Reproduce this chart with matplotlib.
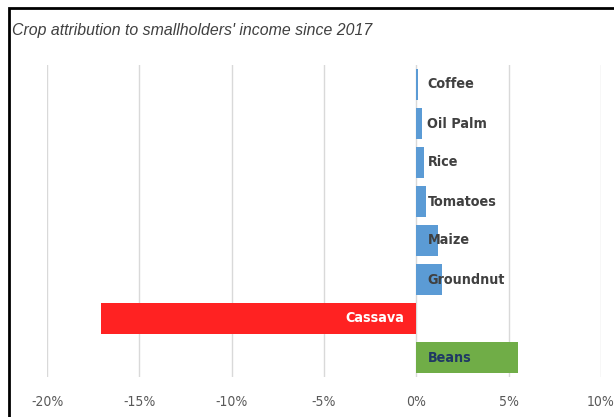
import matplotlib.pyplot as plt
from matplotlib.patches import Rectangle

crops = ['Coffee', 'Oil Palm', 'Rice', 'Tomatoes', 'Maize', 'Groundnut', 'Cassava', 'Beans']
change = [0.1, 0.33, 0.4, 0.55, 1.2, 1.4, -17.1, 5.5]
bar_colors = ['#5B9BD5'] * 6 + ['#FF2222', '#70AD47']
label_colors = ['#404040'] * 6 + ['white', '#1F3864']
tick_vals = [-20, -15, -10, -5, 0, 5, 10]
title = "Crop attribution to smallholders' income since 2017"

W, H = 614, 417
fig = plt.figure(figsize=(W / 100, H / 100), dpi=100)
ax = fig.add_axes([47 / W, 1 - 377 / H, (601 - 47) / W, (377 - 65) / H])

ypos = list(range(len(crops)))
ax.barh(ypos, change, height=0.82, color=bar_colors, zorder=3)
ax.set_ylim(len(crops) - 0.5, -0.5)
ax.set_xlim(-20, 10)

for y, v, name, c in zip(ypos, change, crops, label_colors):
    if v < 0:
        ax.text(-0.65, y, name, ha='right', va='center', color=c,
                fontsize=10.3, fontweight='bold', fontstretch='condensed', zorder=4)
    else:
        ax.text(0.6, y, name, ha='left', va='center', color=c,
                fontsize=10.3, fontweight='bold', fontstretch='condensed', zorder=4)

ax.set_xticks(tick_vals)
ax.set_xticklabels([f'{t}%' for t in tick_vals], color='#595959', fontsize=10,
                   fontstretch='condensed')
ax.set_yticks([])
ax.tick_params(axis='x', length=0, pad=13)
ax.grid(axis='x', color='#D9D9D9', linewidth=1, zorder=0)
for s in ax.spines.values():
    s.set_visible(False)

fig.text(12 / W, 1 - 30 / H, title, ha='left', va='center', fontsize=11.4,
         style='italic', color='#404040', family=['Liberation Sans', 'DejaVu Sans'])

# outer frame (cropped at right and bottom)
fig.patches.append(Rectangle((9 / W, -0.1), 1.1, 1 - 8 / H + 0.1,
                             transform=fig.transFigure, fill=False,
                             edgecolor='black', linewidth=2))

fig.savefig('out.png', dpi=100)
